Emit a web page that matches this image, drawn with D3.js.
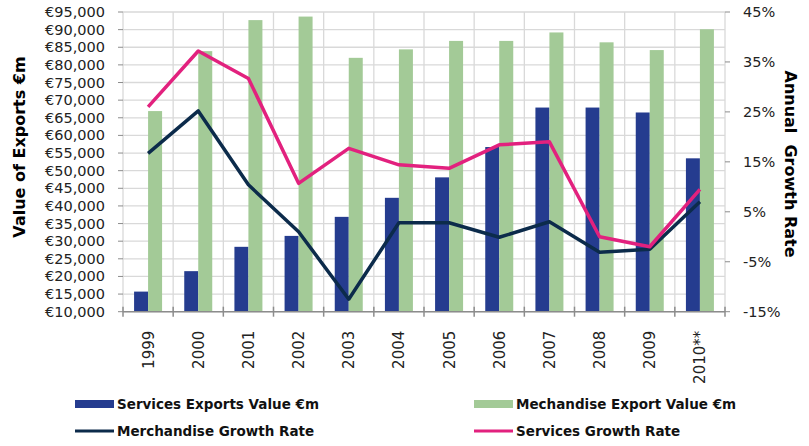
<!DOCTYPE html>
<html>
<head>
<meta charset="utf-8">
<script src="https://cdn.jsdelivr.net/npm/d3@7"></script>
<style>
  body { margin: 0; background: #fff; }
  text { font-family: "DejaVu Sans", sans-serif; }
</style>
</head>
<body>
<div id="main"></div>
<script>
var years = ['1999', '2000', '2001', '2002', '2003', '2004', '2005', '2006', '2007', '2008', '2009', '2010**'];

var services_value = [15700, 21500, 28400, 31500, 36900, 42300, 48100, 56700, 67900, 67900, 66500, 53500];

var merchandise_value = [66900, 83900, 92700, 93700, 82000, 84400, 86800, 86800, 89200, 86400, 84200, 90100];

var merchandise_growth = [16.7, 25.2, 10.4, 1.0, -12.5, 2.8, 2.8, -0.1, 3.0, -3.1, -2.5, 7.0];

var services_growth = [26.0, 37.2, 31.7, 10.7, 17.7, 14.4, 13.7, 18.4, 19.0, 0.0, -2.0, 9.5];

var value_ticks = d3.range(10000, 95001, 5000);

var rate_ticks = [-15, -5, 5, 15, 25, 35, 45];

var width = 809, height = 446;
var plot_left = 123, plot_right = 725, plot_top = 12, plot_bottom = 311.7;

var svg = d3.select('#main').append('svg').attr('width', width).attr('height', height);

var x = d3.scaleBand().domain(years).range([plot_left, plot_right]);
var yv = d3.scaleLinear().domain([10000, 95000]).range([plot_bottom, plot_top]);
var yr = d3.scaleLinear().domain([-15, 45]).range([plot_bottom, plot_top]);

// grid
svg.append('g').selectAll('line')
  .data(value_ticks)
  .enter()
  .append('line')
  .attr('x1', plot_left).attr('x2', plot_right)
  .attr('y1', function (d) { return yv(d) }).attr('y2', function (d) { return yv(d) })
  .attr('stroke', '#d9d9d9').attr('stroke-width', 1.3);

svg.append('g').selectAll('line')
  .data(d3.range(years.length + 1))
  .enter()
  .append('line')
  .attr('x1', function (i) { return plot_left + i * x.step() })
  .attr('x2', function (i) { return plot_left + i * x.step() })
  .attr('y1', plot_top).attr('y2', plot_bottom)
  .attr('stroke', '#d9d9d9').attr('stroke-width', 1.3);

// bars
var bw = 14;
svg.append('g').selectAll('rect')
  .data(services_value)
  .enter()
  .append('rect')
  .attr('x', function (d, i) { return x(years[i]) + x.bandwidth() / 2 - bw })
  .attr('y', function (d) { return yv(d) })
  .attr('width', bw)
  .attr('height', function (d) { return plot_bottom - yv(d) })
  .attr('fill', '#253c8f');

svg.append('g').selectAll('rect')
  .data(merchandise_value)
  .enter()
  .append('rect')
  .attr('x', function (d, i) { return x(years[i]) + x.bandwidth() / 2 })
  .attr('y', function (d) { return yv(d) })
  .attr('width', bw)
  .attr('height', function (d) { return plot_bottom - yv(d) })
  .attr('fill', '#a3ca97');

// lines
var line = d3.line()
  .x(function (d, i) { return x(years[i]) + x.bandwidth() / 2 })
  .y(function (d) { return yr(d) });

svg.append('path')
  .datum(merchandise_growth)
  .attr('fill', 'none').attr('stroke', '#0c2b4b').attr('stroke-width', 3.5)
  .attr('stroke-linejoin', 'round')
  .attr('d', line);

svg.append('path')
  .datum(services_growth)
  .attr('fill', 'none').attr('stroke', '#e2217e').attr('stroke-width', 3.5)
  .attr('stroke-linejoin', 'round')
  .attr('d', line);

// axes
var xAxis = svg.append('g')
  .attr('transform', 'translate(0,' + plot_bottom + ')');
xAxis.append('line').attr('x1', plot_left).attr('x2', plot_right).attr('stroke', '#8c8c8c').attr('stroke-width', 1.5);
xAxis.selectAll('.tick')
  .data(d3.range(years.length + 1))
  .enter()
  .append('line')
  .attr('x1', function (i) { return plot_left + i * x.step() })
  .attr('x2', function (i) { return plot_left + i * x.step() })
  .attr('y1', -5).attr('y2', 5)
  .attr('stroke', '#8c8c8c').attr('stroke-width', 1.5);

xAxis.selectAll('.label')
  .data(years)
  .enter()
  .append('text')
  .attr('transform', function (d) { return 'translate(' + (x(d) + x.bandwidth() / 2 + 5.5) + ',19) rotate(-90)' })
  .attr('text-anchor', 'end')
  .attr('font-size', 15)
  .attr('fill', '#222')
  .text(function (d) { return d });

svg.append('g').selectAll('text')
  .data(value_ticks)
  .enter()
  .append('text')
  .attr('x', 105)
  .attr('y', function (d) { return yv(d) + 5 })
  .attr('text-anchor', 'end')
  .attr('font-size', 14.5)
  .attr('fill', '#222')
  .text(function (d) { return '€' + d3.format(',')(d) });

svg.append('g').selectAll('line')
  .data(value_ticks)
  .enter()
  .append('line')
  .attr('x1', plot_left - 5).attr('x2', plot_left)
  .attr('y1', function (d) { return yv(d) }).attr('y2', function (d) { return yv(d) })
  .attr('stroke', '#8c8c8c');

svg.append('g').selectAll('line')
  .data(rate_ticks)
  .enter()
  .append('line')
  .attr('x1', plot_right).attr('x2', plot_right + 5)
  .attr('y1', function (d) { return yr(d) }).attr('y2', function (d) { return yr(d) })
  .attr('stroke', '#8c8c8c');

svg.append('g').selectAll('text')
  .data(rate_ticks)
  .enter()
  .append('text')
  .attr('x', 743)
  .attr('y', function (d) { return yr(d) + 5 })
  .attr('font-size', 14.5)
  .attr('fill', '#222')
  .text(function (d) { return d + '%' });

// axis titles
svg.append('text')
  .attr('transform', 'translate(25,147) rotate(-90)')
  .attr('text-anchor', 'middle')
  .attr('font-size', 16).attr('font-weight', 'bold')
  .text('Value of Exports €m');

svg.append('text')
  .attr('transform', 'translate(785,164) rotate(90)')
  .attr('text-anchor', 'middle')
  .attr('font-size', 16).attr('font-weight', 'bold')
  .attr('xml:space', 'preserve')
  .text('Annual  Growth Rate');

// legend
var legend = [
  {name: 'Services Exports Value €m', color: '#253c8f', kind: 'bar', x: 75, y: 404},
  {name: 'Mechandise Export Value €m', color: '#a3ca97', kind: 'bar', x: 474, y: 404},
  {name: 'Merchandise Growth Rate', color: '#0c2b4b', kind: 'line', x: 75, y: 431},
  {name: 'Services Growth Rate', color: '#e2217e', kind: 'line', x: 474, y: 431}
];

var lg = svg.append('g').selectAll('g')
  .data(legend)
  .enter()
  .append('g')
  .attr('transform', function (d) { return 'translate(' + d.x + ',' + d.y + ')' });

lg.append('rect')
  .attr('x', 0)
  .attr('y', function (d) { return d.kind === 'bar' ? -4 : -1.5 })
  .attr('width', 39)
  .attr('height', function (d) { return d.kind === 'bar' ? 8 : 3 })
  .attr('fill', function (d) { return d.color });

lg.append('text')
  .attr('x', 42)
  .attr('y', 5)
  .attr('font-family', '"DejaVu Sans Condensed", "DejaVu Sans", sans-serif')
  .attr('font-weight', 'bold')
  .attr('font-size', 13.5)
  .attr('fill', '#111')
  .text(function (d) { return d.name });
</script>
</body>
</html>
